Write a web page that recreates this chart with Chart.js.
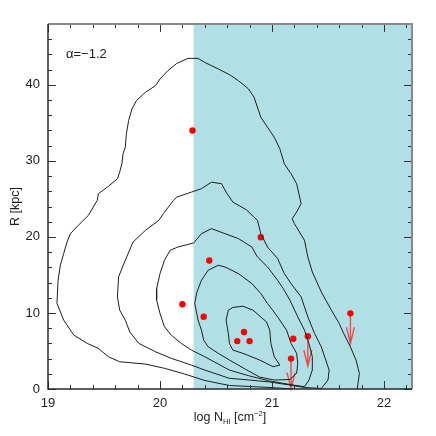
<!DOCTYPE html>
<html>
<head>
<meta charset="utf-8">
<script src="https://cdn.jsdelivr.net/npm/chart.js@4.4.0/dist/chart.umd.min.js"></script>
<style>
  html, body { margin: 0; padding: 0; background: #fff; }
  #wrap { width: 436px; height: 436px; }
</style>
</head>
<body>
<div id="wrap"><canvas id="myChart"></canvas></div>
<script>
// диапазоны осей
const xMin = 19, xMax = 22.25;
const yMin = 0, yMax = 48;
const xMajor = [19, 20, 21, 22];
const yMajor = [0, 10, 20, 30, 40];
const xMinorStep = 0.2;
const yMinorStep = 2;
const shadeFrom = 20.3; // порог log N_HI, правее - заливка
const alphaLabel = 'α=−1.2';

// детекции
const detX = [20.29, 20.90, 20.44, 20.20, 20.39, 20.75, 20.69, 20.80, 21.19];
const detY = [34.0, 19.95, 16.9, 11.15, 9.5, 7.5, 6.3, 6.3, 6.6];

// верхние пределы (стрелки вниз)
const limX = [21.32, 21.17, 21.70];
const limY = [6.95, 4.0, 9.95];

// контуры: [log N_HI, R]
const contour1 = [
  [21.18, 0], [20.98, 0.2], [20.80, 0.33], [20.62, 0.46], [20.40, 1.12], [20.22, 1.97],
  [20.04, 2.72], [19.87, 3.28], [19.64, 3.58], [19.54, 4.24], [19.45, 5.34], [19.35, 6.0],
  [19.23, 7.09], [19.14, 9.06], [19.08, 11.25], [19.09, 14.3], [19.11, 16.27], [19.14, 17.81],
  [19.17, 19.33], [19.20, 20.43], [19.27, 21.52], [19.36, 22.83], [19.44, 24.8], [19.45, 25.68],
  [19.53, 26.55], [19.62, 27.65], [19.64, 28.52], [19.66, 29.62], [19.67, 30.93], [19.69, 31.8],
  [19.70, 33.56], [19.72, 35.3], [19.75, 36.84], [19.79, 37.93], [19.87, 39.02], [19.96, 39.9],
  [20.00, 40.77], [20.07, 41.86], [20.15, 42.82], [20.25, 43.48], [20.34, 43.48], [20.40, 42.95],
  [20.52, 42.09], [20.62, 41.34], [20.70, 40.55], [20.79, 39.46], [20.84, 38.36], [20.90, 35.73],
  [20.96, 34.42], [21.02, 33.11], [21.07, 31.59], [21.11, 29.62], [21.17, 28.31], [21.22, 26.99],
  [21.24, 25.68], [21.26, 24.37], [21.22, 23.27], [21.18, 22.4], [21.20, 21.75], [21.29, 19.55],
  [21.32, 17.36], [21.36, 15.39], [21.44, 12.77], [21.53, 10.37], [21.60, 8.62], [21.64, 7.31],
  [21.70, 5.55], [21.75, 3.81], [21.78, 2.06], [21.77, 0.92], [21.76, 0]
];
const contour2 = [
  [21.44, 0.07], [21.29, 0.2], [21.16, 0.52], [20.98, 0.92], [20.80, 1.18], [20.62, 1.4],
  [20.40, 2.49], [20.28, 3.15], [20.10, 4.03], [19.96, 4.9], [19.81, 6.0], [19.73, 7.52],
  [19.69, 9.06], [19.64, 10.37], [19.62, 12.11], [19.63, 14.74], [19.69, 16.93], [19.76, 19.33],
  [19.87, 20.87], [19.99, 22.18], [20.03, 23.06], [20.12, 24.8], [20.15, 25.24], [20.28, 25.89],
  [20.37, 26.34], [20.46, 27.2], [20.55, 26.99], [20.59, 25.89], [20.65, 24.58], [20.77, 23.58],
  [20.87, 22.18], [20.90, 20.43], [20.96, 18.67], [21.05, 17.15], [21.11, 15.18], [21.17, 13.87],
  [21.26, 12.11], [21.32, 9.49], [21.38, 7.31], [21.44, 5.55], [21.48, 3.81], [21.51, 2.49],
  [21.50, 1.18], [21.44, 0.07]
];
const contour3 = [
  [21.29, 0.3], [21.33, 1.18], [21.36, 2.49], [21.36, 4.24], [21.33, 6.0], [21.29, 7.74],
  [21.23, 9.49], [21.16, 11.68], [21.10, 13.22], [21.05, 14.3], [20.96, 16.05], [20.87, 17.36],
  [20.82, 18.67], [20.70, 19.78], [20.58, 20.43], [20.46, 21.09], [20.37, 20.43], [20.30, 19.2],
  [20.16, 18.67], [20.09, 18.24], [20.04, 16.93], [20.00, 15.18], [19.97, 13.22], [19.97, 11.68],
  [20.00, 9.93], [20.04, 8.18], [20.10, 7.09], [20.19, 6.0], [20.28, 5.12], [20.40, 4.24],
  [20.62, 2.49], [20.80, 1.71], [20.98, 1.05], [21.16, 0.59], [21.29, 0.3]
];
const contour4 = [
  [20.52, 16.27], [20.58, 16.05], [20.70, 15.18], [20.82, 13.87], [20.90, 12.56], [20.96, 11.25],
  [21.05, 9.49], [21.13, 7.74], [21.17, 6.0], [21.22, 4.69], [21.23, 3.37], [21.22, 2.06],
  [21.16, 1.25], [21.02, 1.18], [20.89, 1.57], [20.76, 2.62], [20.62, 3.81], [20.52, 4.69],
  [20.43, 5.55], [20.39, 6.43], [20.37, 7.74], [20.34, 9.06], [20.31, 11.25], [20.33, 12.77],
  [20.37, 14.3], [20.43, 15.62], [20.52, 16.27]
];
const contour5 = [
  [20.61, 10.37], [20.65, 10.72], [20.74, 10.89], [20.83, 10.37], [20.95, 8.83], [20.98, 7.74],
  [20.99, 6.0], [21.02, 4.24], [21.07, 3.15], [21.01, 2.93], [20.89, 3.81], [20.74, 4.69],
  [20.65, 5.12], [20.62, 6.0], [20.61, 7.31], [20.59, 9.06], [20.61, 10.37]
];

const FONT = "'Liberation Sans', Arial, sans-serif";
const toPts = arr => arr.map(p => ({ x: p[0], y: p[1] }));

function contourSet(arr) {
  return {
    data: toPts(arr),
    showLine: true,
    pointRadius: 0,
    borderColor: '#1e1e1e',
    borderWidth: 1,
    tension: 0,
    fill: false
  };
}

// заливка, стрелки, рамка, подписи
const decorPlugin = {
  id: 'decor',
  beforeDatasetsDraw(chart) {
    const { ctx, chartArea: a, scales: { x, y } } = chart;
    ctx.save();
    const px = x.getPixelForValue(shadeFrom);
    ctx.fillStyle = '#b0dfe5';
    ctx.fillRect(px, a.top, a.right - px, a.bottom - a.top);

    // стрелки верхних пределов
    ctx.strokeStyle = '#ee4b4b';
    ctx.lineWidth = 1.4;
    limX.forEach((v, i) => {
      const sx = x.getPixelForValue(v);
      const sy = y.getPixelForValue(limY[i]);
      const ty = sy + 30;
      ctx.beginPath();
      ctx.moveTo(sx, sy);
      ctx.lineTo(sx, ty);
      ctx.moveTo(sx - 4, ty - 16);
      ctx.lineTo(sx, ty);
      ctx.lineTo(sx + 4, ty - 16);
      ctx.stroke();
    });
    ctx.restore();
  },
  afterDatasetsDraw(chart) {
    const { ctx, chartArea: a, scales: { x, y } } = chart;
    ctx.save();

    // тики внутрь на всех четырёх сторонах
    ctx.strokeStyle = '#333';
    ctx.lineWidth = 1;
    const isMajor = (v, list) => list.some(m => Math.abs(m - v) < 1e-6);
    for (let v = xMin; v <= xMax + 1e-6; v += xMinorStep) {
      const p = Math.round(x.getPixelForValue(v)) + 0.5;
      const len = isMajor(v, xMajor) ? 8 : 4;
      ctx.beginPath();
      ctx.moveTo(p, a.bottom); ctx.lineTo(p, a.bottom - len);
      ctx.moveTo(p, a.top); ctx.lineTo(p, a.top + len);
      ctx.stroke();
    }
    for (let v = yMin; v <= yMax + 1e-6; v += yMinorStep) {
      const p = Math.round(y.getPixelForValue(v)) + 0.5;
      const len = isMajor(v, yMajor) ? 8 : 4;
      ctx.beginPath();
      ctx.moveTo(a.left, p); ctx.lineTo(a.left + len, p);
      ctx.moveTo(a.right, p); ctx.lineTo(a.right - len, p);
      ctx.stroke();
    }

    // рамка
    ctx.lineWidth = 2;
    ctx.strokeStyle = '#8a8a8a';
    ctx.beginPath();
    ctx.moveTo(a.left, a.top); ctx.lineTo(a.right, a.top); ctx.lineTo(a.right, a.bottom);
    ctx.stroke();
    ctx.strokeStyle = '#2a2a2a';
    ctx.lineWidth = 1.5;
    ctx.beginPath();
    ctx.moveTo(a.left, a.top); ctx.lineTo(a.left, a.bottom); ctx.lineTo(a.right, a.bottom);
    ctx.stroke();

    // метка alpha
    ctx.fillStyle = '#222';
    ctx.font = '13px ' + FONT;
    ctx.textBaseline = 'middle';
    ctx.textAlign = 'left';
    ctx.fillText(alphaLabel, a.left + 18, a.top + 30);

    // подпись оси X: log N_HI [cm^-2]
    const big = '12.5px ' + FONT, small = '7.5px ' + FONT;
    const parts = [
      { t: 'log N', f: big, dy: 0 },
      { t: 'HI', f: small, dy: 3 },
      { t: ' [cm', f: big, dy: 0 },
      { t: '−2', f: small, dy: -5 },
      { t: ']', f: big, dy: 0 }
    ];
    let total = 0;
    parts.forEach(p => { ctx.font = p.f; p.w = ctx.measureText(p.t).width; total += p.w; });
    let cx = (a.left + a.right) / 2 - total / 2;
    const by = 421;
    ctx.textBaseline = 'alphabetic';
    parts.forEach(p => { ctx.font = p.f; ctx.fillText(p.t, cx, by + p.dy); cx += p.w; });

    // подпись оси Y
    ctx.translate(19, (a.top + a.bottom) / 2);
    ctx.rotate(-Math.PI / 2);
    ctx.font = big;
    ctx.textAlign = 'center';
    ctx.fillText('R [kpc]', 0, 0);
    ctx.restore();
  }
};

const ctx = document.getElementById('myChart').getContext('2d');
const myChart = new Chart(ctx, {
  type: 'scatter',
  data: {
    datasets: [
      contourSet(contour1),
      contourSet(contour2),
      contourSet(contour3),
      contourSet(contour4),
      contourSet(contour5),
      {
        data: detX.map((v, i) => ({ x: v, y: detY[i] })).concat(limX.map((v, i) => ({ x: v, y: limY[i] }))),
        pointRadius: 3.2,
        pointBackgroundColor: '#ff0000',
        pointBorderWidth: 0,
        showLine: false
      }
    ]
  },
  options: {
    responsive: true,
    maintainAspectRatio: false,
    animation: false,
    events: [],
    layout: { padding: { top: 24, right: 24, left: 0, bottom: 0 } },
    plugins: { legend: { display: false }, tooltip: { enabled: false } },
    scales: {
      x: {
        type: 'linear',
        min: xMin,
        max: xMax,
        afterBuildTicks: s => { s.ticks = xMajor.map(v => ({ value: v })); },
        afterFit: s => { s.height = 47; },
        grid: { display: false, drawTicks: false },
        border: { display: false },
        ticks: { color: '#222', padding: 7, maxRotation: 0, font: { family: FONT, size: 13 } }
      },
      y: {
        type: 'linear',
        min: yMin,
        max: yMax,
        afterBuildTicks: s => { s.ticks = yMajor.map(v => ({ value: v })); },
        afterFit: s => { s.width = 48; },
        grid: { display: false, drawTicks: false },
        border: { display: false },
        ticks: { color: '#222', padding: 8, font: { family: FONT, size: 13 } }
      }
    }
  },
  plugins: [decorPlugin]
});
</script>
</body>
</html>
